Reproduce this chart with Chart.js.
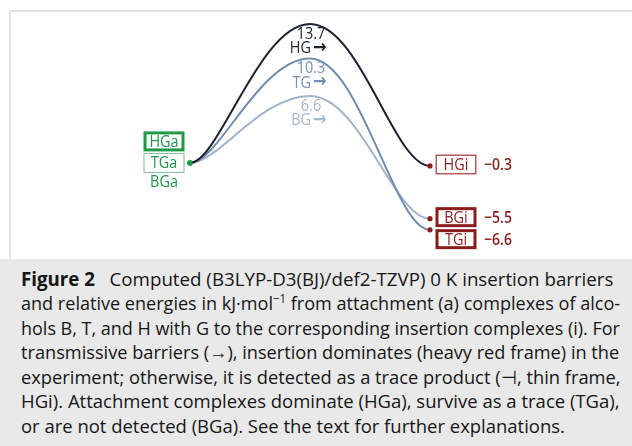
<!DOCTYPE html>
<html>
<head>
<meta charset="utf-8">
<script src="https://cdn.jsdelivr.net/npm/chart.js@4"></script>
<style>
html,body{margin:0;padding:0;background:#fff;}
body{width:632px;height:446px;position:relative;overflow:hidden;font-family:"Open Sans",sans-serif;}
#frame{position:absolute;left:9px;top:10px;width:640px;height:260px;border-left:2px solid #e3e3e3;border-top:2px solid #e3e3e3;}
#chart{position:absolute;left:0;top:0;}
#caption{position:absolute;left:0;top:259px;width:632px;height:187px;background:#e9e9e9;}
.ln{position:absolute;left:21px;white-space:nowrap;font-size:19px;line-height:20px;color:#161616;transform-origin:0 0;}
.sup{font-size:12px;position:relative;top:-7px;}
</style>
</head>
<body>
<div id="frame"></div>
<canvas id="chart" width="632" height="258"></canvas>
<div id="caption">
  <div class="ln"><b>Figure 2</b>&nbsp;&nbsp; Computed (B3LYP-D3(BJ)/def2-TZVP) 0 K insertion barriers</div>
  <div class="ln">and relative energies in kJ·mol<span class="sup">−1</span> from attachment (a) complexes of alco-</div>
  <div class="ln">hols B, T, and H with G to the corresponding insertion complexes (i). For</div>
  <div class="ln">transmissive barriers (→), insertion dominates (heavy red frame) in the</div>
  <div class="ln">experiment; otherwise, it is detected as a trace product (⊣, thin frame,</div>
  <div class="ln">HGi). Attachment complexes dominate (HGa), survive as a trace (TGa),</div>
  <div class="ln">or are not detected (BGa). See the text for further explanations.</div>
</div>
<script>
// data: relative energies (kJ/mol) at attachment complex, barrier, insertion complex
const stages = ['a', 'TS', 'i'];
const hgEnergy = [0, 13.7, -0.3];
const tgEnergy = [0, 10.3, -6.6];
const bgEnergy = [0, 6.6, -5.5];
const pathNames = ['HG', 'TG', 'BG'];
const attachLabels = ['HGa', 'TGa', 'BGa'];
const insertLabels = ['HGi', 'TGi', 'BGi'];

// styles
const lineColors = ['#1b2230', '#6f8cae', '#a1b4cc'];
const labelColors = ['#1b2230', '#7491b4', '#a6b8cf'];
const GREEN = '#1e9a4b', RED = '#8a1c1c';
const attachFrame = [3, 1, 0];      // border widths of the left boxes
const insertFrame = [1.5, 3, 3];    // border widths of the right boxes
const attachOffset = [-21.5, 0, 19];
const LABEL_FONT = '500 17px "Open Sans"';
const PEAK_FONT = '500 17px "Open Sans"';
const SQ = 0.85;                    // horizontal squeeze of label text

function fmt(v){ return (v < 0 ? '\u2212' : '') + Math.abs(v).toFixed(1); }

function text(ctx, str, x, y, font, color, align){
  ctx.save();
  ctx.font = font;
  ctx.fillStyle = color;
  ctx.textBaseline = 'middle';
  ctx.textAlign = align || 'center';
  ctx.translate(x, y);
  ctx.scale(SQ, 1);
  ctx.fillText(str, 0, 0);
  ctx.restore();
}

function box(ctx, cx, cy, w, h, lw, color){
  if(!lw) return;
  ctx.save();
  ctx.strokeStyle = color;
  ctx.lineWidth = lw;
  ctx.strokeRect(cx - w/2 + lw/2, cy - h/2 + lw/2, w - lw, h - lw);
  ctx.restore();
}

// energy profile look: horizontal tangents at every stationary point
const handles = { out: [0.24, 0.42], in: [0, 0.42, 0.3] };
const flatTangents = {
  id: 'flatTangents',
  beforeDatasetDraw(chart, args){
    const line = args.meta.dataset;
    line.updateControlPoints(chart.chartArea, 'x');
    const pts = args.meta.data;
    pts.forEach((p, i) => {
      const prev = pts[i-1], next = pts[i+1];
      if(prev){ p.cp1x = p.x - handles.in[i]*(p.x - prev.x); p.cp1y = p.y; }
      if(next){ p.cp2x = p.x + handles.out[i]*(next.x - p.x); p.cp2y = p.y; }
    });
  }
};

const annotate = {
  id: 'annotate',
  afterDatasetsDraw(chart){
    const ctx = chart.ctx;
    const series = [hgEnergy, tgEnergy, bgEnergy];
    const metas = series.map((_, i) => chart.getDatasetMeta(i));

    // barrier labels under each peak
    metas.forEach((m, i) => {
      const pk = m.data[1];
      text(ctx, fmt(series[i][1]), pk.x + 1, pk.y + 10, PEAK_FONT, labelColors[i]);
      text(ctx, pathNames[i], pk.x + 1, pk.y + 24.5, PEAK_FONT, labelColors[i], 'right');
      text(ctx, '\u2192', pk.x + 3, pk.y + 24, 'bold 19px "DejaVu Sans"', labelColors[i], 'left');
    });

    // attachment complexes, stacked left of the common start point
    const s = metas[0].data[0];
    attachLabels.forEach((lab, i) => {
      const cx = s.x - 26, cy = s.y + attachOffset[i];
      box(ctx, cx, cy, 41, 20, attachFrame[i], i === 1 ? '#7cbf8e' : GREEN);
      text(ctx, lab, cx, cy + 0.5, LABEL_FONT, GREEN);
    });

    // insertion complexes, pushed apart when they overlap
    const ends = metas.map((m, i) => ({ i, y: m.data[2].y, x: m.data[2].x }))
      .sort((a, b) => a.y - b.y);
    let bottom = -Infinity;
    ends.forEach(e => {
      let cy = e.y - 1.5;
      if(cy - 10 < bottom + 2) cy = bottom + 2 + 10;
      bottom = cy + 10;
      const cx = e.x + 26;
      box(ctx, cx, cy, 41, 20, insertFrame[e.i], e.i === 0 ? '#b35a5a' : RED);
      text(ctx, insertLabels[e.i], cx, cy + 0.5, LABEL_FONT, RED);
      text(ctx, fmt(series[e.i][2]), cx + 28, cy + 1, '600 16.5px "Open Sans"', RED, 'left');
    });
  }
};

function makeSet(label, values, color){
  return {
    label, data: values,
    borderColor: color, borderWidth: 2, tension: 0.4, fill: false, clip: false,
    pointRadius: [2.6, 0, 2.6],
    pointBorderWidth: 0,
    pointBackgroundColor: [GREEN, color, RED]
  };
}

new Chart(document.getElementById('chart'), {
  type: 'line',
  data: {
    labels: stages,
    datasets: [
      makeSet('HG', hgEnergy, lineColors[0]),
      makeSet('TG', tgEnergy, lineColors[1]),
      makeSet('BG', bgEnergy, lineColors[2])
    ]
  },
  options: {
    responsive: false,
    animation: false,
    events: [],
    layout: { padding: { left: 190, right: 202, top: 21, bottom: 14 } },
    scales: {
      x: { display: false, offset: false },
      y: { display: false, min: -8, max: 14 }
    },
    plugins: { legend: { display: false }, tooltip: { enabled: false } }
  },
  plugins: [flatTangents, annotate]
});

// caption: place lines and stretch/squeeze each to its justified width
const targets = [592, 599, 599, 598, 600, 599, 544];
document.querySelectorAll('.ln').forEach((el, i) => {
  el.style.top = (9.6 + 24.5*i) + 'px';
  el.style.transform = 'scaleX(' + (targets[i] / el.scrollWidth) + ')';
});
</script>
</body>
</html>
